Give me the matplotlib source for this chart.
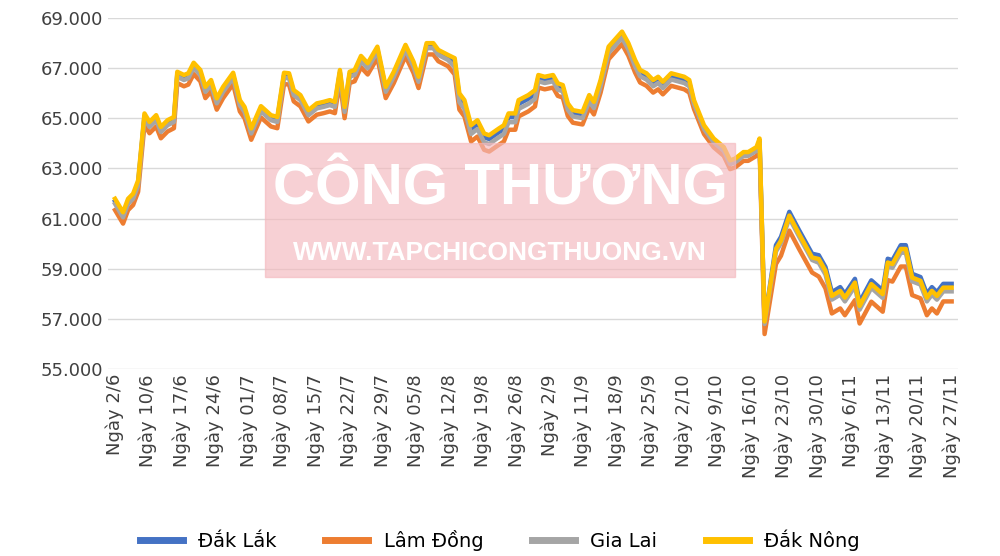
import numpy as np
import matplotlib.pyplot as plt
import matplotlib.patches as mpatches

labels = ['Ngày 2/6', 'Ngày 10/6', 'Ngày 17/6', 'Ngày 24/6', 'Ngày 01/7', 'Ngày 08/7', 'Ngày 15/7',
          'Ngày 22/7', 'Ngày 29/7', 'Ngày 05/8', 'Ngày 12/8', 'Ngày 19/8', 'Ngày 26/8', 'Ngày 2/9',
          'Ngày 11/9', 'Ngày 18/9', 'Ngày 25/9', 'Ngày 2/10', 'Ngày 9/10', 'Ngày 16/10', 'Ngày 23/10',
          'Ngày 30/10', 'Ngày 6/11', 'Ngày 13/11', 'Ngày 20/11', 'Ngày 27/11']

# positions in label units
x = [0.01,0.25,0.40,0.55,0.70,0.89,1.04,1.24,1.38,1.58,1.77,1.87,2.07,2.20,2.36,2.56,2.71,2.88,3.05,3.24,3.54,3.74,3.88,4.08,4.37,4.67,4.86,5.06,5.21,5.35,5.55,5.79,6.04,6.24,6.43,6.58,6.73,6.87,7.02,7.17,7.36,7.56,7.85,8.10,8.34,8.69,8.93,9.08,9.32,9.52,9.67,9.96,
     10.16,10.30,10.45,10.65,10.84,11.04,11.19,11.48,11.63,11.77,11.97,12.07,12.36,12.56,
     12.66,12.85,13.10,13.24,13.39,13.54,13.69,13.98,14.18,14.32,14.52,14.76,15.16,15.35,15.55,15.70,15.89,16.09,16.24,16.38,16.63,17.02,17.17,
     17.31,17.61,17.90,18.20,18.39,18.54,18.79,18.93,19.18,19.27,
     19.42,
     19.76,19.91,20.16,20.45,20.84,
     21.04,21.24,21.43,21.68,21.82,22.12,22.26,22.61,22.95,23.10,23.24,23.49,23.64,23.83,24.08,24.27,24.42,24.57,24.76,25.01]

dak_nong = [61790,61250,61790,61990,62520,65190,64850,65120,64650,64920,65050,66850,66720,66790,67210,66920,66250,66520,65790,66250,66810,65720,65450,64590,65480,65120,65050,66810,66790,66120,65920,65320,65590,65650,65720,65650,66920,65450,66850,66920,67480,67190,67850,66250,66850,67920,67250,66650,67990,67990,67720,67520,
            67390,65990,65720,64720,64920,64390,64320,64590,64720,65190,65190,65720,65920,66120,
            66720,66650,66720,66390,66320,65590,65320,65250,65920,65650,66520,67850,68450,67990,67320,66920,66790,66520,66650,66450,66790,66650,66520,
            65720,64720,64190,63850,63320,63390,63650,63650,63850,64190,
            56900,
            59790,60120,61120,60390,59450,
            59390,58920,57920,58120,57850,58450,57520,58390,57990,59250,59190,59790,59790,58650,58520,57850,58120,57920,58250,58250]

lam_dong = [61340,60800,61340,61540,62070,64740,64400,64670,64200,64470,64600,66400,66270,66340,66760,66470,65800,66070,65340,65800,66360,65270,65000,64140,65030,64670,64600,66360,66340,65670,65470,64870,65140,65200,65270,65200,66470,65000,66400,66470,67030,66740,67400,65800,66400,67470,66800,66200,67540,67540,67270,67070,
            66740,65340,65070,64070,64270,63740,63670,63940,64070,64540,64540,65070,65270,65470,
            66220,66150,66220,65890,65820,65090,64820,64750,65420,65150,66020,67350,67950,67490,66820,66420,66290,66020,66150,65950,66290,66150,66020,
            65370,64370,63840,63500,62970,63040,63300,63300,63500,63840,
            56400,
            59190,59520,60520,59790,58850,
            58690,58220,57220,57420,57150,57750,56820,57690,57290,58550,58490,59090,59090,57950,57820,57150,57420,57220,57700,57700]

gia_lai = [61590,61050,61590,61790,62320,64990,64650,64920,64450,64720,64850,66650,66520,66590,67010,66720,66050,66320,65590,66050,66610,65520,65250,64390,65280,64920,64850,66610,66590,65920,65720,65120,65390,65450,65520,65450,66720,65250,66650,66720,67280,66990,67650,66050,66650,67720,67050,66450,67790,67790,67520,67320,
           67040,65640,65370,64370,64570,64040,63970,64240,64370,64840,64840,65370,65570,65770,
           66470,66400,66470,66140,66070,65340,65070,65000,65670,65400,66270,67600,68200,67740,67070,66670,66540,66270,66400,66200,66540,66400,66270,
           65570,64570,64040,63700,63170,63240,63500,63500,63700,64040,
           56800,
           59690,60020,61020,60290,59350,
           59240,58770,57770,57970,57700,58300,57370,58240,57840,59100,59040,59640,59640,58500,58370,57700,57970,57770,58100,58100]

dak_lak = [61690,61150,61690,61890,62420,65090,64750,65020,64550,64820,64950,66750,66620,66690,67110,66820,66150,66420,65690,66150,66710,65620,65350,64490,65380,65020,64950,66710,66690,66020,65820,65220,65490,65550,65620,65550,66820,65350,66750,66820,67380,67090,67750,66150,66750,67820,67150,66550,67890,67890,67620,67420,
           67240,65840,65570,64570,64770,64240,64170,64440,64570,65040,65040,65570,65770,65970,
           66620,66550,66620,66290,66220,65490,65220,65150,65820,65550,66420,67750,68350,67890,67220,66820,66690,66420,66550,66350,66690,66550,66420,
           65620,64620,64090,63750,63220,63290,63550,63550,63750,64090,
           56900,
           59940,60270,61270,60540,59600,
           59540,59070,58070,58270,58000,58600,57670,58540,58140,59400,59340,59940,59940,58800,58670,58000,58270,58070,58400,58400]

fig = plt.figure(figsize=(10, 5.56), dpi=100)
ax = fig.add_axes([0.108, 0.336, 0.85, 0.632])

# watermark
fig.patches.append(mpatches.Rectangle((0.265, 0.502), 0.47, 0.241, transform=fig.transFigure,
                                      color='#f4b8bd', alpha=0.65, zorder=0))
fig.text(0.50, 0.66, 'CÔNG THƯƠNG', ha='center', va='center', fontsize=42, fontweight='bold',
         color='white', family='Liberation Sans', zorder=1)
fig.text(0.50, 0.545, 'WWW.TAPCHICONGTHUONG.VN', ha='center', va='center', fontsize=19,
         fontweight='bold', color='white', family='Liberation Sans', zorder=1)
ax.patch.set_alpha(0)

ax.plot(x, dak_lak, color='#4472c4', lw=3.2, label='Đắk Lắk')
ax.plot(x, lam_dong, color='#ed7d31', lw=3.2, label='Lâm Đồng')
ax.plot(x, gia_lai, color='#a5a5a5', lw=3.2, label='Gia Lai')
ax.plot(x, dak_nong, color='#ffc000', lw=3.2, label='Đắk Nông')

ax.set_ylim(55000, 69000)
ax.set_yticks(np.arange(55000, 69001, 2000))
ax.set_yticklabels([f'{v:,}'.replace(',', '.') for v in range(55000, 69001, 2000)], fontsize=13)
ax.set_xlim(-0.2, 25.2)
ax.set_xticks(range(len(labels)))
ax.set_xticklabels(labels, rotation=90, fontsize=13)
ax.grid(axis='y', color='#d9d9d9', lw=1)
ax.tick_params(length=0, colors='#404040')
for s in ax.spines.values():
    s.set_visible(False)

leg = ax.legend(loc='center', bbox_to_anchor=(0.5, 0.028), bbox_transform=fig.transFigure,
                ncol=4, frameon=False, fontsize=14, handlelength=2.2, columnspacing=2.5)
for h in leg.get_lines():
    h.set_linewidth(5)

fig.savefig('out.png')
